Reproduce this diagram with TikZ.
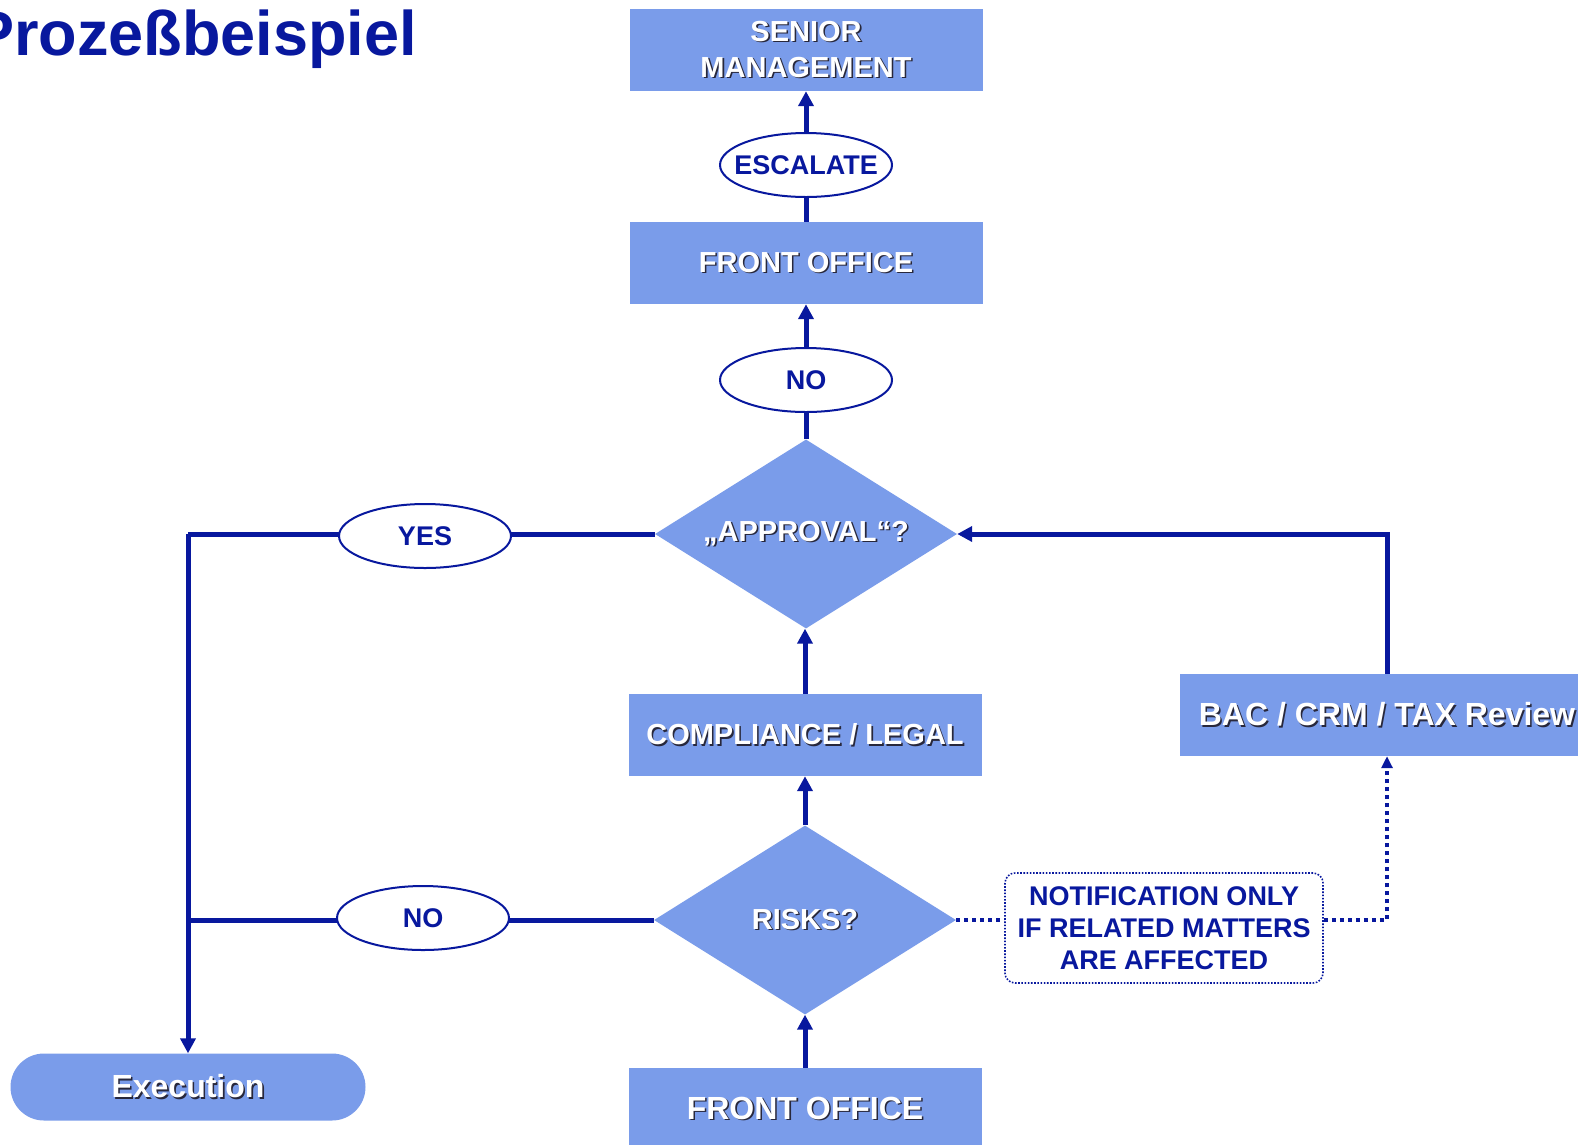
\documentclass[tikz,border=0pt]{standalone}
\usepackage{fontspec}
\setmainfont{Liberation Sans}
\usetikzlibrary{shapes.geometric,arrows.meta}
\definecolor{dblue}{RGB}{8,24,158}
\definecolor{lblue}{RGB}{122,156,234}
\definecolor{shadowc}{RGB}{40,40,60}
\newcommand\shd[1]{{\makebox[0pt][l]{\hspace{1.6pt}\raisebox{-1.6pt}{\color{shadowc}#1}}{\color{white}#1}}}
\tikzset{
  procbox/.style={rectangle, fill=lblue, minimum width=353pt, minimum height=82pt, inner sep=0pt, align=center, font=\bfseries\fontsize{29}{36}\selectfont},
  oval/.style={ellipse, draw=dblue, line width=2pt, fill=white, minimum width=172pt, minimum height=64pt, inner sep=0pt, text=dblue, font=\bfseries\fontsize{27}{32}\selectfont},
  decide/.style={diamond, fill=lblue, minimum width=302pt, minimum height=189pt, inner sep=0pt, aspect=1.6, font=\bfseries\fontsize{29}{34}\selectfont},
  conn/.style={draw=dblue, line width=5pt},
  arr/.style={-{Triangle[length=15pt,width=15pt]}},
  dotconn/.style={draw=dblue, line width=4pt, dash pattern=on 4pt off 4pt},
  darr/.style={-{Triangle[length=12pt,width=11pt]}}
}
\begin{document}
\begin{tikzpicture}[x=1pt,y=-1pt]
\clip (0,0) rectangle (1578,1144);
\fill[white] (0,0) rectangle (1578,1144);
% title
\node[anchor=base west, inner sep=0pt, text=dblue, font=\bfseries\fontsize{63}{70}\selectfont] (title) at (-28,55) {Prozeßbeispiel};
% boxes
\node[procbox] (senior) at (806,50) {\shd{SENIOR}\\\shd{MANAGEMENT}};
\node[procbox] (fo1) at (806,263) {\shd{FRONT OFFICE}};
\node[procbox] (comp) at (805,735) {\shd{COMPLIANCE / LEGAL}};
\node[procbox, font=\bfseries\fontsize{32}{36}\selectfont] (fo2) at (805,1109) {\shd{FRONT OFFICE}};
\node[procbox, minimum width=414pt, font=\bfseries\fontsize{32}{36}\selectfont] (bac) at (1387,715) {\shd{BAC / CRM / TAX Review}};
\node[rectangle, fill=lblue, minimum width=355pt, minimum height=67pt, rounded corners=33.5pt, font=\bfseries\fontsize{32}{36}\selectfont] (exec) at (188,1087) {\shd{Execution}};
% decisions
\node[decide] (appr) at (806,534) {\shd{„APPROVAL“?}};
\node[decide] (risks) at (805,920) {\shd{RISKS?}};
% notification
\node[rectangle, draw=dblue, line width=1.6pt, dash pattern=on 1.6pt off 1.6pt, rounded corners=10pt, minimum width=318pt, minimum height=110pt, align=center, text=dblue, font=\bfseries\fontsize{27}{32}\selectfont] (notif) at (1164,928) {NOTIFICATION ONLY\\IF RELATED MATTERS\\ARE AFFECTED};
% connectors (drawn before ovals so ovals cover them)
\coordinate (turn1) at (188,534);
\draw[conn] (appr.west) -- (turn1);
\draw[conn, arr] (turn1) -- (exec.north);
\draw[conn] (risks.west) -- (risks.west -| exec.north);
\draw[conn, arr] (bac.north) |- (appr.east);
\draw[conn, arr] (fo2.north) -- (risks.south);
\draw[conn, arr] (risks.north) -- (comp.south);
\draw[conn, arr] (comp.north) -- (comp.north |- appr.south);
\draw[dotconn] (risks.east) -- (risks.east -| notif.west);
\draw[dotconn, darr] (risks.east -| notif.east) -| (bac.south);
% ovals
\node[oval] (yes) at (425,536) {\makebox[0pt]{YES}};
\node[oval] (no2) at (423,918) {\makebox[0pt]{NO}};
\node[oval] (no1) at (806,380) {\makebox[0pt]{NO}};
\node[oval] (esc) at (806,165) {\makebox[0pt]{ESCALATE}};
\draw[conn] (appr.north) -- (no1.south);
\draw[conn, arr] (no1.north) -- (fo1.south);
\draw[conn] (fo1.north) -- (esc.south);
\draw[conn, arr] (esc.north) -- (senior.south);
\end{tikzpicture}
\end{document}
